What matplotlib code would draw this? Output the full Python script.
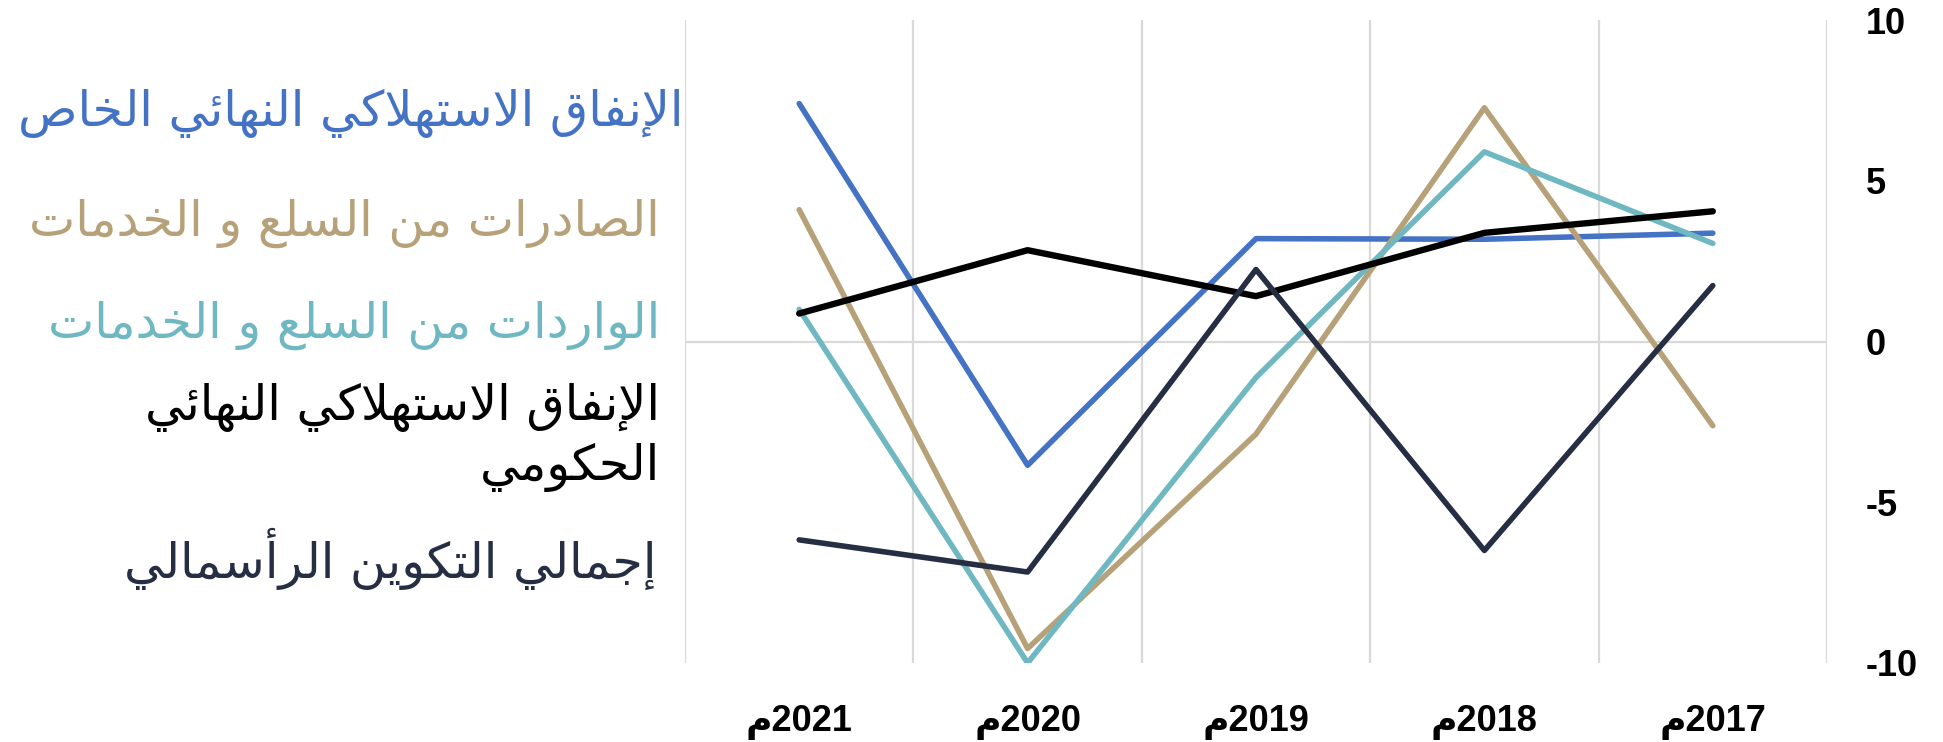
import numpy as np
import matplotlib
matplotlib.use("Agg")
import matplotlib.pyplot as plt

# البيانات (بترتيب العرض من اليسار إلى اليمين)
years = ["2021", "2020", "2019", "2018", "2017"]
private_cons = [7.4, -3.85, 3.2, 3.18, 3.37]
exports = [4.1, -9.55, -2.88, 7.27, -2.62]
imports = [1.0, -10.0, -1.12, 5.9, 3.05]
gov_cons = [0.87, 2.84, 1.41, 3.38, 4.05]
gcf = [-6.17, -7.17, 2.24, -6.5, 1.74]

labels = [
    "الإنفاق الاستهلاكي النهائي الخاص",
    "الصادرات من السلع و الخدمات",
    "الواردات من السلع و الخدمات",
    "الإنفاق الاستهلاكي النهائي\nالحكومي",
    "إجمالي التكوين الرأسمالي",
]
colors = ["#4472C4", "#B6A179", "#6FB8C1", "#000000", "#262E44"]

# matplotlib لا يقوم بتشكيل الحروف العربية، لذلك نستعمل أشكال العرض (Presentation Forms-B)
BASE = {
    "ء": (0xFE80, 1), "آ": (0xFE81, 2), "أ": (0xFE83, 2), "إ": (0xFE87, 2),
    "ئ": (0xFE89, 4), "ا": (0xFE8D, 2), "ب": (0xFE8F, 4), "ة": (0xFE93, 2),
    "ت": (0xFE95, 4), "ج": (0xFE9D, 4), "ح": (0xFEA1, 4), "خ": (0xFEA5, 4),
    "د": (0xFEA9, 2), "ر": (0xFEAD, 2), "س": (0xFEB1, 4), "ص": (0xFEB9, 4),
    "ع": (0xFEC9, 4), "ف": (0xFED1, 4), "ق": (0xFED5, 4), "ك": (0xFED9, 4),
    "ل": (0xFEDD, 4), "م": (0xFEE1, 4), "ن": (0xFEE5, 4), "ه": (0xFEE9, 4),
    "و": (0xFEED, 2), "ي": (0xFEF1, 4),
}
LAM_ALEF = {"ا": 0xFEFB, "أ": 0xFEF7, "إ": 0xFEF9, "آ": 0xFEF5}


def shape(text):
    lines = []
    for line in text.split("\n"):
        out = []
        i = 0
        n = len(line)
        while i < n:
            c = line[i]
            prev_joins = i > 0 and line[i - 1] in BASE and BASE[line[i - 1]][1] == 4
            if c == "ل" and i + 1 < n and line[i + 1] in LAM_ALEF:
                code = LAM_ALEF[line[i + 1]] + (1 if prev_joins else 0)
                out.append(chr(code))
                i += 2
                continue
            if c not in BASE:
                out.append(c)
                i += 1
                continue
            start, nf = BASE[c]
            next_joins = nf == 4 and i + 1 < n and line[i + 1] in BASE
            if nf == 1:
                k = 0
            elif nf == 2:
                k = 1 if prev_joins else 0
            else:
                if prev_joins and next_joins:
                    k = 3
                elif prev_joins:
                    k = 1
                elif next_joins:
                    k = 2
                else:
                    k = 0
            out.append(chr(start + k))
            i += 1
        lines.append("".join(reversed(out)))
    return "\n".join(lines)


W, H = 1943, 742
fig = plt.figure(figsize=(W / 100, H / 100), dpi=100)
ax = fig.add_axes([685 / W, 1 - 663 / H, (1827 - 685) / W, (663 - 20) / H])

x = np.arange(len(years))
series = [private_cons, exports, imports, gov_cons, gcf]
for vals, col in zip(series, colors):
    lw = 4.6 if col == "#000000" else 4.0
    ax.plot(x, vals, color=col, lw=lw, solid_capstyle="round", zorder=3)

ax.set_xlim(-0.5, len(years) - 0.5)
ax.set_ylim(-10, 10)
ax.axhline(0, color="#D9D9D9", lw=1.6, zorder=1)
ax.set_xticks(np.arange(-0.5, len(years)), minor=True)
ax.grid(which="minor", axis="x", color="#D9D9D9", lw=1.6, zorder=1)
ax.grid(which="major", visible=False)
for s in ax.spines.values():
    s.set_visible(False)

ax.set_xticks(x)
ax.set_xticklabels([shape("م") + y for y in years],
                   family=["Liberation Sans", "DejaVu Sans"],
                   fontweight="bold", fontsize=26)
ax.yaxis.tick_right()
ax.set_yticks([-10, -5, 0, 5, 10])
ax.set_yticklabels(["-10", "-5", "0", "5", "10"], family="Liberation Sans",
                   fontweight="bold", fontsize=26, ha="left")
ax.tick_params(axis="x", which="both", length=0, pad=30)
ax.tick_params(axis="y", length=0, pad=28)

# وسيلة الإيضاح كنصوص ملونة على اليسار
legend_x = [683, 660, 660, 660, 657]
legend_base = [126, 236, 338, 480, 578]
for lab, col, lx, ly in zip(labels, colors, legend_x, legend_base):
    fig.text(lx / W, 1 - ly / H, shape(lab), color=col, fontsize=35.5,
             family="DejaVu Sans", ha="right", va="baseline",
             multialignment="right", linespacing=1.27)

fig.savefig("out.png", dpi=100)
